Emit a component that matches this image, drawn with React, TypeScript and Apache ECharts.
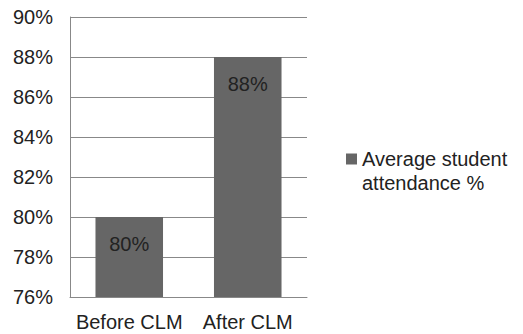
import React, { useEffect, useRef } from "react";
import * as echarts from "echarts";

// Attendance before and after CLM
const categories: string[] = ["Before CLM", "After CLM"];
const attendance: number[] = [80, 88];
const seriesName = "Average student\nattendance %";

// Value axis range (percent)
const axisMin = 76;
const axisMax = 90;
const axisStep = 2;

const FONT = "'Liberation Sans', Arial, sans-serif";
const TEXT = "#222222";
const LINE = "#888888";
const BAR = "#666666";

export default function App() {
  const ref = useRef<HTMLDivElement>(null);

  useEffect(() => {
    if (!ref.current) return;
    const chart = echarts.init(ref.current, undefined, { renderer: "svg" });
    chart.setOption({
      animation: false,
      backgroundColor: "#ffffff",
      textStyle: { fontFamily: FONT },
      grid: { left: 70, right: 216, top: 17, bottom: 37, containLabel: false },
      legend: {
        show: true,
        left: 346,
        top: 123,
        padding: 0,
        icon: "rect",
        itemWidth: 11,
        itemHeight: 11,
        itemGap: 0,
        selectedMode: false,
        data: [seriesName],
        // leading blank line keeps the swatch level with the first text line
        formatter: (name: string) => "\n" + name,
        textStyle: {
          fontFamily: FONT,
          fontSize: 20,
          color: TEXT,
          lineHeight: 24,
        },
      },
      xAxis: {
        type: "category",
        data: categories,
        axisLine: { show: true, lineStyle: { color: LINE, width: 1 } },
        axisTick: { show: false },
        axisLabel: {
          color: TEXT,
          fontSize: 20,
          fontFamily: FONT,
          margin: 15,
          interval: 0,
        },
        splitLine: { show: false },
      },
      yAxis: {
        type: "value",
        min: axisMin,
        max: axisMax,
        interval: axisStep,
        axisLine: { show: true, lineStyle: { color: LINE, width: 1 } },
        axisTick: { show: false },
        axisLabel: {
          color: TEXT,
          fontSize: 20,
          fontFamily: FONT,
          margin: 17,
          formatter: "{value}%",
        },
        splitLine: { show: true, lineStyle: { color: LINE, width: 1 } },
      },
      series: [
        {
          name: seriesName,
          type: "bar",
          data: attendance,
          barCategoryGap: "43%",
          itemStyle: { color: BAR },
          label: {
            show: true,
            position: "insideTop",
            distance: 17,
            formatter: "{c}%",
            color: TEXT,
            fontSize: 20,
            fontFamily: FONT,
          },
        },
      ],
    });
    return () => chart.dispose();
  }, []);

  return (
    <div
      ref={ref}
      style={{ position: "fixed", left: 0, top: 0, width: 523, height: 334 }}
    />
  );
}
